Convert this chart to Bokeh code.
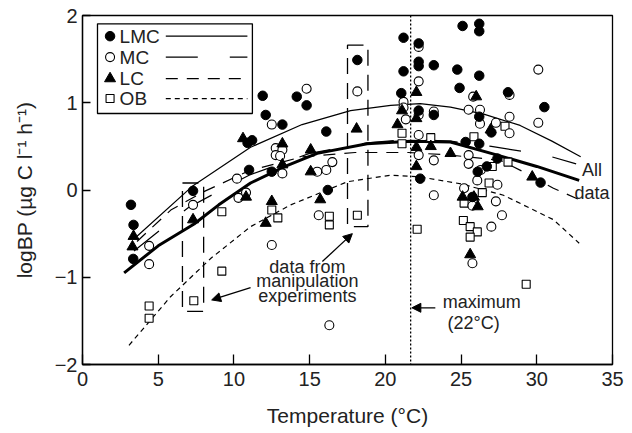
from bokeh.plotting import figure
from bokeh.models import (Range1d, FixedTicker, Label, Arrow, NormalHead, Span, BoxAnnotation)
from bokeh.embed import file_html
from bokeh.resources import INLINE

# ---------------- data ----------------
x_ticks = [0, 5, 10, 15, 20, 25, 30, 35]
y_ticks = [-2, -1, 0, 1, 2]
y_tick_labels = {-2: "\u22122", -1: "\u22121", 0: "0", 1: "1", 2: "2"}

lmc_x = [3.2, 3.37, 3.35, 7.3, 11.0, 10.9, 11.2, 11.9, 14.15, 14.8, 12.1, 13.2, 16.1, 21.2, 22.2, 22.2, 22.2,
         23.2, 21.2, 18.15, 21.05, 22.2, 23.2, 12.5, 16.2, 22.3, 25.1, 26.2, 26.2, 24.75, 26.2, 24.9, 28.1,
         30.5, 26.2, 27.0, 25.3, 26.2, 26.7, 26.1, 27.4, 30.25, 25.75]
lmc_y = [-0.17, -0.40, -0.79, -0.01, 0.23, 0.54, 0.57, 1.08, 1.07, 0.97, 0.86, 0.75, 0.67, 1.745, 1.68, 1.47, 1.42,
         1.43, 1.36, 1.49, 1.11, 0.91, 0.86, 0.21, 0.0, 0.13, 1.88, 1.905, 1.82, 1.38, 1.31, 1.17, 1.12,
         0.95, 0.84, 0.66, 0.55, 0.53, 0.27, 0.21, 0.36, 0.085, -0.08]

mc_x = [4.4, 4.4, 7.3, 10.2, 10.3, 10.8, 22.2, 22.2, 14.8, 12.5, 18.15, 21.2, 21.2, 21.35, 22.2, 23.2, 22.2,
        12.76, 13.2, 12.76, 13.05, 13.2, 16.5, 15.5, 16.1, 15.6, 12.5, 23.2, 23.2, 22.2, 30.1, 25.8, 28.2,
        25.5, 26.25, 26.25, 27.3, 28.2, 30.1, 28.2, 25.5, 25.5, 26.3, 26.07, 27.4, 25.2, 27.3, 25.75, 27.7,
        27.0, 25.75, 16.3]
mc_y = [-0.64, -0.85, -0.17, 0.13, -0.09, -0.03, 1.64, 1.245, 1.16, 0.75, 1.13, 1.01, 0.945, 0.81, 0.86, 0.9, 0.63,
        0.48, 0.46, 0.40, 0.39, 0.19, 0.32, 0.21, 0.23, -0.29, -0.63, 0.34, -0.06, 0.40, 1.38, 1.07, 1.09,
        0.92, 0.92, 0.76, 0.77, 0.84, 0.77, 0.65, 0.4, 0.30, 0.23, 0.11, 0.06, 0.02, -0.13, -0.18, -0.29,
        -0.42, -0.84, -1.55]

lc_x = [3.37, 3.3, 7.3, 10.6, 10.8, 22.05, 21.1, 20.8, 22.05, 18.1, 13.2, 15.07, 23.0, 13.2, 15.07, 12.5, 12.1,
        15.7, 22.05, 22.05, 26.0, 26.95, 24.3, 29.7, 25.1, 25.85, 26.1, 25.6]
lc_y = [-0.53, -0.65, -0.34, 0.59, -0.08, 1.12, 0.91, 0.75, 0.82, 0.70, 0.53, 0.46, 0.5, 0.29, 0.21, -0.13, -0.38,
        -0.11, 0.49, 0.27, 1.07, 0.69, 0.42, 0.15, -0.08, -0.08, -0.19, -0.74]

ob_x = [4.4, 4.4, 7.35, 9.2, 9.2, 21.1, 21.1, 23.0, 12.5, 12.9, 16.3, 16.3, 18.15, 22.1, 27.9, 25.85, 27.06,
        28.1, 26.85, 26.4, 25.2, 25.15, 25.6, 26.07, 25.6, 29.3]
ob_y = [-1.33, -1.47, -1.27, -0.93, -0.25, 0.65, 0.53, 0.60, -0.23, -0.32, -0.30, -0.40, -0.29, -0.45, 0.73, 0.61,
        0.27, 0.32, 0.08, -0.03, -0.15, -0.35, -0.42, -0.48, -0.54, -1.08]

# fitted curves
lmc_fit_x = [3.6, 7.3, 11.1, 14.5, 17.7, 20.35, 22.3, 24.3, 26.5, 28.9, 31.0, 32.9]
lmc_fit_y = [-0.53, 0.05, 0.49, 0.75, 0.91, 0.97, 0.99, 0.95, 0.87, 0.74, 0.56, 0.38]

mc_fit_x = [3.4, 7.0, 11.0, 15.0, 18.8, 21.5, 24.3, 27.0, 30.6, 32.6]
mc_fit_y = [-0.70, -0.20, 0.17, 0.42, 0.54, 0.58, 0.56, 0.50, 0.40, 0.30]

lc_fit_x = [3.6, 5.83, 8.0, 11.0, 14.5, 18.0, 21.5, 24.3, 27.6, 29.1, 31.1, 32.8]
lc_fit_y = [-0.59, -0.23, -0.02, 0.22, 0.38, 0.43, 0.43, 0.40, 0.34, 0.21, 0.02, -0.11]

ob_fit_x = [3.07, 3.96, 5.83, 8.5, 11.1, 13.75, 17.5, 20.35, 22.3, 25.0, 27.8, 31.1, 32.8]
ob_fit_y = [-1.78, -1.60, -1.22, -0.78, -0.42, -0.17, 0.095, 0.17, 0.15, 0.07, -0.06, -0.34, -0.61]

all_fit_x = [2.75, 5.0, 7.37, 9.0, 11.1, 13.5, 15.5, 18.8, 21.67, 24.3, 27.4, 30.0, 32.8]
all_fit_y = [-0.95, -0.64, -0.39, -0.17, 0.08, 0.28, 0.42, 0.53, 0.56, 0.55, 0.40, 0.27, 0.11]

t_max = 21.67

FONT = "Liberation Sans"
TXT = "#222222"

p = figure(frame_width=530, frame_height=349, width=624, height=425,
           x_range=Range1d(0, 35), y_range=Range1d(-2, 2),
           output_backend="svg", toolbar_location=None,
           min_border_left=82, min_border_right=12, min_border_top=15, min_border_bottom=61)
p.grid.visible = False
p.outline_line_color = "black"
p.outline_line_width = 1.3
p.background_fill_color = "white"
p.border_fill_color = "white"

for ax in (p.xaxis[0], p.yaxis[0]):
    ax.axis_line_width = 1.3
    ax.major_tick_line_width = 1.3
    ax.major_tick_out = 0
    ax.minor_tick_line_color = None
    ax.major_label_text_font = FONT
    ax.major_label_text_font_size = "20px"
    ax.major_label_text_color = TXT
    ax.axis_label_text_font = FONT
    ax.axis_label_text_font_size = "21px"
    ax.axis_label_text_font_style = "normal"
    ax.axis_label_text_color = TXT

p.xaxis.ticker = FixedTicker(ticks=x_ticks)
p.yaxis.ticker = FixedTicker(ticks=y_ticks)
p.yaxis.major_label_overrides = y_tick_labels
p.xaxis.major_tick_in = 10
p.yaxis.major_tick_in = 8
p.xaxis.major_label_standoff = 7
p.yaxis.major_label_standoff = 5
p.xaxis.axis_label = "Temperature (\u00b0C)"
p.yaxis.axis_label = "logBP (\u00b5g C l\u207b\u00b9 h\u207b\u00b9)"
p.xaxis.axis_label_standoff = 15
p.yaxis.axis_label_standoff = 16

# curves
p.line(lmc_fit_x, lmc_fit_y, line_color="black", line_width=1.2)
p.line(mc_fit_x, mc_fit_y, line_color="black", line_width=1.2, line_dash="32 32")
p.line(lc_fit_x, lc_fit_y, line_color="black", line_width=1.2, line_dash="12 9")
p.line(ob_fit_x, ob_fit_y, line_color="black", line_width=1.2, line_dash="5 4")
p.line(all_fit_x, all_fit_y, line_color="black", line_width=3)

# max line
p.add_layout(Span(location=t_max, dimension="height", line_color="black", line_width=1.3, line_dash="2 2"))

# manipulation boxes
p.add_layout(BoxAnnotation(left=6.6, right=8.0, bottom=-1.39, top=0.08, fill_color=None,
                           line_color="black", line_alpha=1, line_width=1.3, line_dash="16 9"))
p.add_layout(BoxAnnotation(left=17.5, right=18.85, bottom=-0.42, top=1.66, fill_color=None,
                           line_color="black", line_alpha=1, line_width=1.3, line_dash="16 9"))

# points
p.scatter(ob_x, ob_y, marker="square", size=8, fill_color="white", line_color="black", line_width=1.1)
p.scatter(mc_x, mc_y, marker="circle", size=9, fill_color="white", line_color="black", line_width=1.1)
p.scatter(lc_x, lc_y, marker="triangle", size=11, fill_color="black", line_color="black")
p.scatter(lmc_x, lmc_y, marker="circle", size=9.5, fill_color="black", line_color="black")

# legend (drawn by hand)
p.add_layout(BoxAnnotation(left=0.99, right=11.22, bottom=0.877, top=1.905, fill_color=None,
                           line_color="black", line_alpha=1, line_width=1.3))
leg_y = [1.763, 1.523, 1.277, 1.048]
leg_names = ["LMC", "MC", "LC", "OB"]
leg_dash = ["solid", "32 32", "12 9", "5 4"]
p.scatter([1.82], [leg_y[0]], marker="circle", size=9.5, fill_color="black", line_color="black")
p.scatter([1.82], [leg_y[1]], marker="circle", size=9, fill_color="white", line_color="black", line_width=1.1)
p.scatter([1.82], [leg_y[2]], marker="triangle", size=11, fill_color="black", line_color="black")
p.scatter([1.82], [leg_y[3]], marker="square", size=8, fill_color="white", line_color="black", line_width=1.1)
for yy, nm, ds in zip(leg_y, leg_names, leg_dash):
    p.add_layout(Label(x=2.45, y=yy, text=nm, text_font=FONT, text_font_size="19px",
                       text_baseline="middle", text_align="left", text_color=TXT))
    p.line([5.5, 10.89], [yy, yy], line_color="black", line_width=1.2, line_dash=ds)

# annotations
for txt, yy in zip(["data from", "manipulation", "experiments"], [-0.877, -1.048, -1.22]):
    p.add_layout(Label(x=14.85, y=yy, text=txt, text_font=FONT, text_font_size="18px",
                       text_align="center", text_baseline="middle", text_color=TXT))
p.add_layout(Arrow(end=NormalHead(size=9, fill_color="black", line_color="black"),
                   x_start=15.84, y_start=-0.82, x_end=17.82, y_end=-0.50, line_width=1.3))
p.add_layout(Arrow(end=NormalHead(size=9, fill_color="black", line_color="black"),
                   x_start=11.1, y_start=-1.12, x_end=8.53, y_end=-1.26, line_width=1.3))

p.add_layout(Label(x=26.36, y=-1.288, text="maximum", text_font=FONT, text_font_size="18px",
                   text_align="center", text_baseline="middle", text_color=TXT))
p.add_layout(Label(x=25.83, y=-1.523, text="(22\u00b0C)", text_font=FONT, text_font_size="18px",
                   text_align="center", text_baseline="middle", text_color=TXT))
p.add_layout(Arrow(end=NormalHead(size=9, fill_color="black", line_color="black"),
                   x_start=23.3, y_start=-1.35, x_end=21.75, y_end=-1.35, line_width=1.3))

p.add_layout(Label(x=33.65, y=0.23, text="All", text_font=FONT, text_font_size="18px",
                   text_align="center", text_baseline="middle", text_color=TXT))
p.add_layout(Label(x=33.65, y=-0.03, text="data", text_font=FONT, text_font_size="18px",
                   text_align="center", text_baseline="middle", text_color=TXT))

open("out.html", "w").write(file_html(p, INLINE))
